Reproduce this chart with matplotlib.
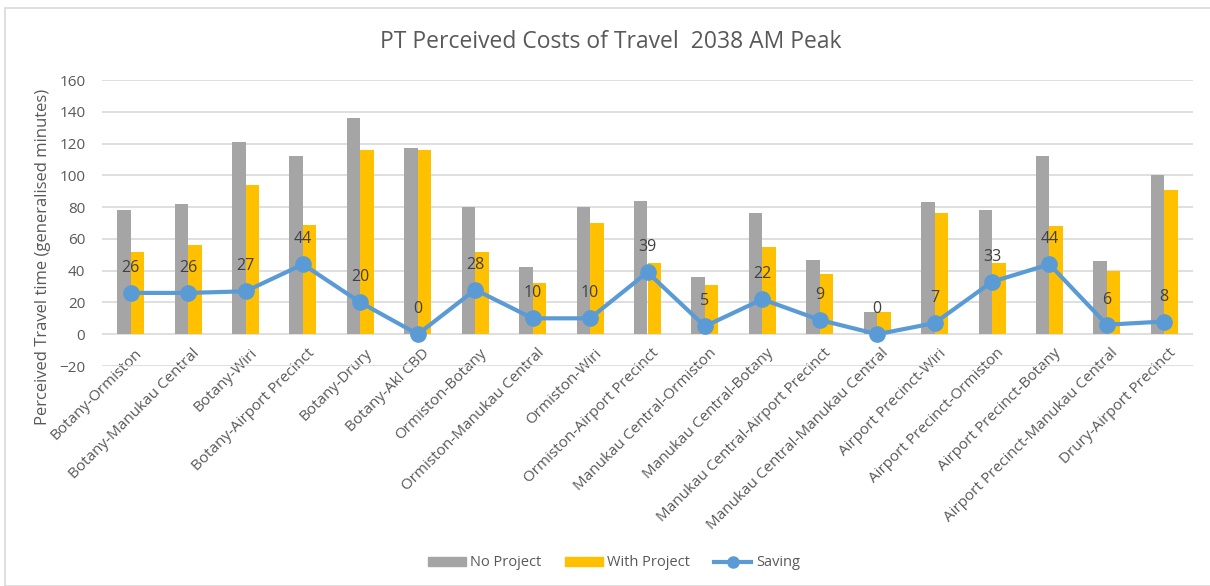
import matplotlib
matplotlib.use("Agg")
import matplotlib.pyplot as plt
import matplotlib.transforms as mtransforms
import numpy as np
from matplotlib.patches import Rectangle
from matplotlib.lines import Line2D

plt.rcParams['font.family'] = ['Open Sans', 'DejaVu Sans']

routes = [
    "Botany-Ormiston", "Botany-Manukau Central", "Botany-Wiri",
    "Botany-Airport Precinct", "Botany-Drury", "Botany-Akl CBD",
    "Ormiston-Botany", "Ormiston-Manukau Central", "Ormiston-Wiri",
    "Ormiston-Airport Precinct", "Manukau Central-Ormiston",
    "Manukau Central-Botany", "Manukau Central-Airport Precinct",
    "Manukau Central-Manukau Central", "Airport Precinct-Wiri",
    "Airport Precinct-Ormiston", "Airport Precinct-Botany",
    "Airport Precinct-Manukau Central", "Drury-Airport Precinct",
]
no_project = [78, 82, 121, 112, 136, 117, 80, 42, 80, 84, 36, 76, 47,
              14, 83, 78, 112, 46, 100]
with_project = [52, 56, 94, 69, 116, 116, 52, 32, 70, 45, 31, 55, 38,
                14, 76, 45, 68, 40, 91]
saving = [26, 26, 27, 44, 20, 0, 28, 10, 10, 39, 5, 22, 9, 0, 7, 33, 44, 6, 8]

GREY = "#A5A5A5"
GOLD = "#FFC000"
BLUE = "#5B9BD5"
TXT = "#595959"

W, H = 1210, 586
fig = plt.figure(figsize=(W / 100, H / 100), dpi=100)

# chart area border
fig.patches.append(Rectangle((5 / W, 0), 1.2, 1 - 8 / H, transform=fig.transFigure,
                             fill=False, edgecolor="#D9D9D9", linewidth=1.2))

ax = fig.add_axes([102 / W, 1 - 366 / H, (1193 - 102) / W, (366 - 80) / H])

x = np.arange(len(routes))
bw = 0.235
ax.bar(x - bw / 2, no_project, bw, color=GREY, zorder=2)
ax.bar(x + bw / 2, with_project, bw, color=GOLD, zorder=2)
ax.plot(x, saving, color=BLUE, linewidth=3, marker="o", markersize=11, zorder=3)

for xi, s in zip(x, saving):
    ax.annotate(str(s), (xi, s), xytext=(0, 18), textcoords="offset points",
                ha="center", va="center", fontsize=11.5, color="#404040", zorder=4)

ax.set_xlim(-0.5, len(routes) - 0.5)
ax.set_ylim(-20, 160)
ax.set_yticks(np.arange(-20, 161, 20))
ax.yaxis.grid(True, color="#D9D9D9", linewidth=1.2, zorder=0)
ax.set_axisbelow(True)
for sp in ax.spines.values():
    sp.set_visible(False)
ax.tick_params(axis="both", length=0, colors=TXT)
ax.tick_params(axis="y", labelsize=11, pad=12)

# category labels hang off the zero line, not the bottom of the axes
ax.set_xticks(x)
ax.set_xticklabels(routes, rotation=45, ha="right", va="top",
                   rotation_mode="anchor", fontsize=11, color=TXT)
ax.tick_params(axis="x", pad=2)
shift = mtransforms.ScaledTranslation(4 / 100, 23 / 100, fig.dpi_scale_trans)
for lab in ax.get_xticklabels():
    lab.set_transform(lab.get_transform() + shift)

fig.text(43 / W, 1 - 257 / H, "Perceived Travel time (generalised minutes)",
         rotation=90, ha="center", va="center", fontsize=12, color=TXT)

fig.text(611 / W, 1 - 42 / H, "PT Perceived Costs of Travel  2038 AM Peak",
         ha="center", va="center", fontsize=16.5, color=TXT)

handles = [
    Rectangle((0, 0), 1, 1, color=GREY),
    Rectangle((0, 0), 1, 1, color=GOLD),
    Line2D([], [], color=BLUE, linewidth=3, marker="o", markersize=8),
]
leg = fig.legend(handles, ["No Project", "With Project", "Saving"],
                 loc="center", bbox_to_anchor=(614 / W, 1 - 563 / H), ncol=3,
                 frameon=False, fontsize=10.5, handlelength=2.6, handleheight=0.6,
                 columnspacing=1.6, handletextpad=0.3)
for t in leg.get_texts():
    t.set_color(TXT)

fig.savefig("out.png", dpi=100)
